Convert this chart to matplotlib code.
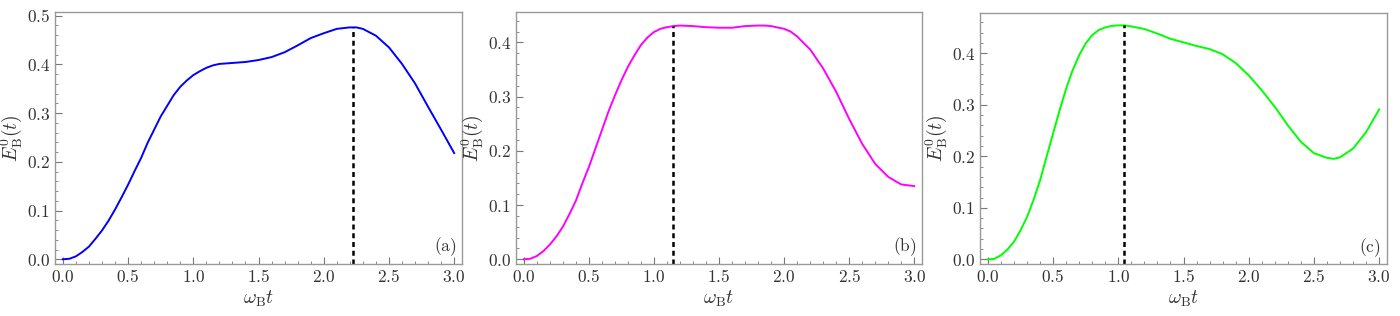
import matplotlib
matplotlib.use('Agg')
import matplotlib.pyplot as plt
from matplotlib.ticker import MultipleLocator, FuncFormatter

plt.rcParams['mathtext.fontset'] = 'cm'
plt.rcParams['font.family'] = 'serif'
plt.rcParams['font.serif'] = ['DejaVu Serif']

# values
t_a = [0.0, 0.05, 0.1, 0.15, 0.2, 0.25, 0.3, 0.35, 0.4, 0.45, 0.5, 0.55, 0.6,
       0.65, 0.7, 0.75, 0.8, 0.85, 0.9, 0.95, 1.0, 1.05, 1.1, 1.15, 1.2, 1.3,
       1.4, 1.5, 1.6, 1.7, 1.8, 1.9, 2.0, 2.1, 2.2, 2.25, 2.3, 2.4, 2.5, 2.6,
       2.7, 2.8, 2.9, 3.0]
E_a = [0.0, 0.001, 0.006, 0.015, 0.026, 0.042, 0.059, 0.079, 0.102, 0.127,
       0.153, 0.181, 0.208, 0.239, 0.266, 0.293, 0.315, 0.337, 0.354, 0.367,
       0.378, 0.386, 0.393, 0.398, 0.401, 0.403, 0.405, 0.409, 0.415, 0.425,
       0.439, 0.454, 0.464, 0.473, 0.476, 0.476, 0.473, 0.459, 0.435, 0.401,
       0.361, 0.313, 0.266, 0.218]

t_b = [0.0, 0.05, 0.1, 0.15, 0.2, 0.25, 0.3, 0.35, 0.4, 0.45, 0.5, 0.55, 0.6,
       0.65, 0.7, 0.75, 0.8, 0.85, 0.9, 0.95, 1.0, 1.05, 1.1, 1.15, 1.2, 1.3,
       1.4, 1.5, 1.6, 1.7, 1.8, 1.85, 1.9, 2.0, 2.05, 2.1, 2.2, 2.3, 2.4, 2.5,
       2.6, 2.7, 2.8, 2.9, 3.0]
E_b = [0.0, 0.001, 0.006, 0.015, 0.027, 0.042, 0.06, 0.083, 0.108, 0.14,
       0.17, 0.204, 0.238, 0.272, 0.302, 0.33, 0.355, 0.376, 0.395, 0.409,
       0.419, 0.425, 0.428, 0.430, 0.431, 0.430, 0.428, 0.427, 0.427, 0.430,
       0.431, 0.431, 0.430, 0.425, 0.420, 0.411, 0.387, 0.352, 0.309, 0.259,
       0.213, 0.176, 0.152, 0.138, 0.135]

t_c = [0.0, 0.05, 0.1, 0.15, 0.2, 0.25, 0.3, 0.35, 0.4, 0.45, 0.5, 0.55, 0.6,
       0.65, 0.7, 0.75, 0.8, 0.85, 0.9, 0.95, 1.0, 1.05, 1.1, 1.2, 1.3, 1.4,
       1.5, 1.6, 1.7, 1.8, 1.9, 2.0, 2.1, 2.2, 2.3, 2.4, 2.5, 2.6, 2.65, 2.7,
       2.8, 2.9, 3.0]
E_c = [0.0, 0.001, 0.008, 0.019, 0.034, 0.056, 0.082, 0.115, 0.153, 0.199,
       0.244, 0.289, 0.331, 0.367, 0.396, 0.419, 0.435, 0.445, 0.45, 0.453,
       0.454, 0.454, 0.452, 0.447, 0.438, 0.428, 0.421, 0.414, 0.408, 0.398,
       0.381, 0.357, 0.328, 0.296, 0.26, 0.228, 0.206, 0.197, 0.195, 0.198,
       0.215, 0.247, 0.291]

t_peak = [2.224, 1.145, 1.043]
E_peak = [0.476, 0.431, 0.454]

colors = ['#0000ff', '#ff00ff', '#00ff00']
tags = ['(a)', '(b)', '(c)']
ylims = [(-0.0097, 0.5076), (-0.0087, 0.456), (-0.009, 0.478)]

fig = plt.figure(figsize=(14, 3.16), dpi=100)
boxes = [[55, 462, 12], [516, 922, 12], [980, 1387, 13]]

fmt = FuncFormatter(lambda v, p: r'$%.1f$' % v)

series = [(t_a, E_a), (t_b, E_b), (t_c, E_c)]
for i, (t, E) in enumerate(series):
    l, r, top = boxes[i]
    ax = fig.add_axes([l / 1400, 1 - 264 / 316, (r - l) / 1400, (264 - top) / 316])
    ax.plot(t, E, color=colors[i], lw=1.4)
    lo = ylims[i][0]
    ax.plot([t_peak[i], t_peak[i]], [lo, E_peak[i]], color='black', lw=1.8,
            dashes=(2, 1.5))
    ax.set_xlim(-0.06, 3.06)
    ax.set_ylim(*ylims[i])
    ax.xaxis.set_major_locator(MultipleLocator(0.5))
    ax.xaxis.set_minor_locator(MultipleLocator(0.1))
    ax.yaxis.set_major_locator(MultipleLocator(0.1))
    ax.yaxis.set_minor_locator(MultipleLocator(0.02))
    ax.xaxis.set_major_formatter(fmt)
    ax.yaxis.set_major_formatter(fmt)
    ax.tick_params(which='both', direction='in', top=False, right=False,
                   color='#777777', labelcolor='#333333', labelsize=12.5)
    ax.tick_params(which='major', length=5, width=0.8)
    ax.tick_params(which='minor', length=2.5, width=0.6)
    for s in ax.spines.values():
        s.set_color('#999999')
        s.set_linewidth(1.0)
    ax.set_xlabel(r'$\omega_{\mathrm{B}}t$', fontsize=14, color='#333333', labelpad=2)
    ax.set_ylabel(r'$E_{\mathrm{B}}^{0}(t)$', fontsize=14, color='#333333', labelpad=2)
    ax.text(0.958, 0.067, r'$\mathrm{' + tags[i] + '}$', transform=ax.transAxes,
            ha='center', va='center', fontsize=12.5, color='#333333')

fig.savefig('out.png', dpi=100)
